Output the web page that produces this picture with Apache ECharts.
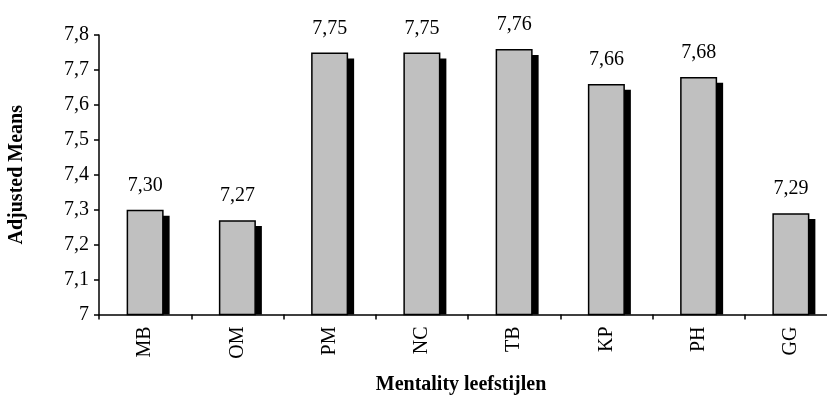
<!DOCTYPE html>
<html>
<head>
<meta charset="utf-8">
<script src="https://cdn.jsdelivr.net/npm/echarts@6/dist/echarts.min.js"></script>
<style>html,body{margin:0;padding:0;background:#fff}#c{width:827px;height:396px}</style>
</head>
<body>
<div id="c"></div>
<script>
var categories = ['MB', 'OM', 'PM', 'NC', 'TB', 'KP', 'PH', 'GG'];
var adjustedMeans = [7.30, 7.27, 7.75, 7.75, 7.76, 7.66, 7.68, 7.29];
var yMin = 7, yMax = 7.8, yStep = 0.1;

var font = '"Liberation Serif", "Times New Roman", serif';
var shadowDrop = 0.017; // shadow drop in value units (style)
var shadowData = adjustedMeans.map(function (v) { return +(v - shadowDrop).toFixed(4); });
var emptyData = categories.map(function () { return null; });
var gap = '-83.78%';

var chart = echarts.init(document.getElementById('c'));
chart.setOption({
  animation: false,
  backgroundColor: '#fff',
  grid: { left: 99, top: 35, width: 738, height: 279.5, containLabel: false, outerBoundsMode: 'none' },
  xAxis: {
    type: 'category',
    data: categories,
    name: 'Mentality leefstijlen',
    nameLocation: 'middle',
    nameGap: 60,
    nameTextStyle: { fontFamily: font, fontWeight: 'bold', fontSize: 20, color: '#000', padding: [0, 14, 0, 0] },
    axisLine: { lineStyle: { color: '#000', width: 1.5 } },
    axisTick: { show: true, length: 5, lineStyle: { color: '#000', width: 1.5 } },
    axisLabel: { rotate: 90, fontFamily: font, fontSize: 20, color: '#000', margin: 12 }
  },
  yAxis: {
    type: 'value',
    min: yMin, max: yMax, interval: yStep,
    name: 'Adjusted Means',
    nameLocation: 'middle',
    nameGap: 72,
    nameTextStyle: { fontFamily: font, fontWeight: 'bold', fontSize: 20, color: '#000' },
    axisLine: { show: true, lineStyle: { color: '#000', width: 1.5 } },
    axisTick: { show: true, length: 5, lineStyle: { color: '#000', width: 1.5 } },
    splitLine: { show: false },
    axisLabel: {
      fontFamily: font, fontSize: 20, color: '#000', margin: 10,
      formatter: function (v) { return Math.abs(v - 7) < 1e-9 ? '7' : v.toFixed(1).replace('.', ','); }
    }
  },
  series: [
    { type: 'bar', data: emptyData, barWidth: 37, barGap: gap, silent: true },
    {
      type: 'bar', data: adjustedMeans, barWidth: 37, barGap: gap, z: 3,
      itemStyle: { color: '#c0c0c0', borderColor: '#000', borderWidth: 1.5 },
      label: {
        show: true, position: 'top', distance: 14,
        fontFamily: font, fontSize: 20, color: '#000',
        formatter: function (p) { return p.value.toFixed(2).replace('.', ','); }
      }
    },
    {
      type: 'bar', data: shadowData, barWidth: 37, barGap: gap, z: 1, silent: true,
      itemStyle: { color: '#000' }
    }
  ]
});
</script>
</body>
</html>
